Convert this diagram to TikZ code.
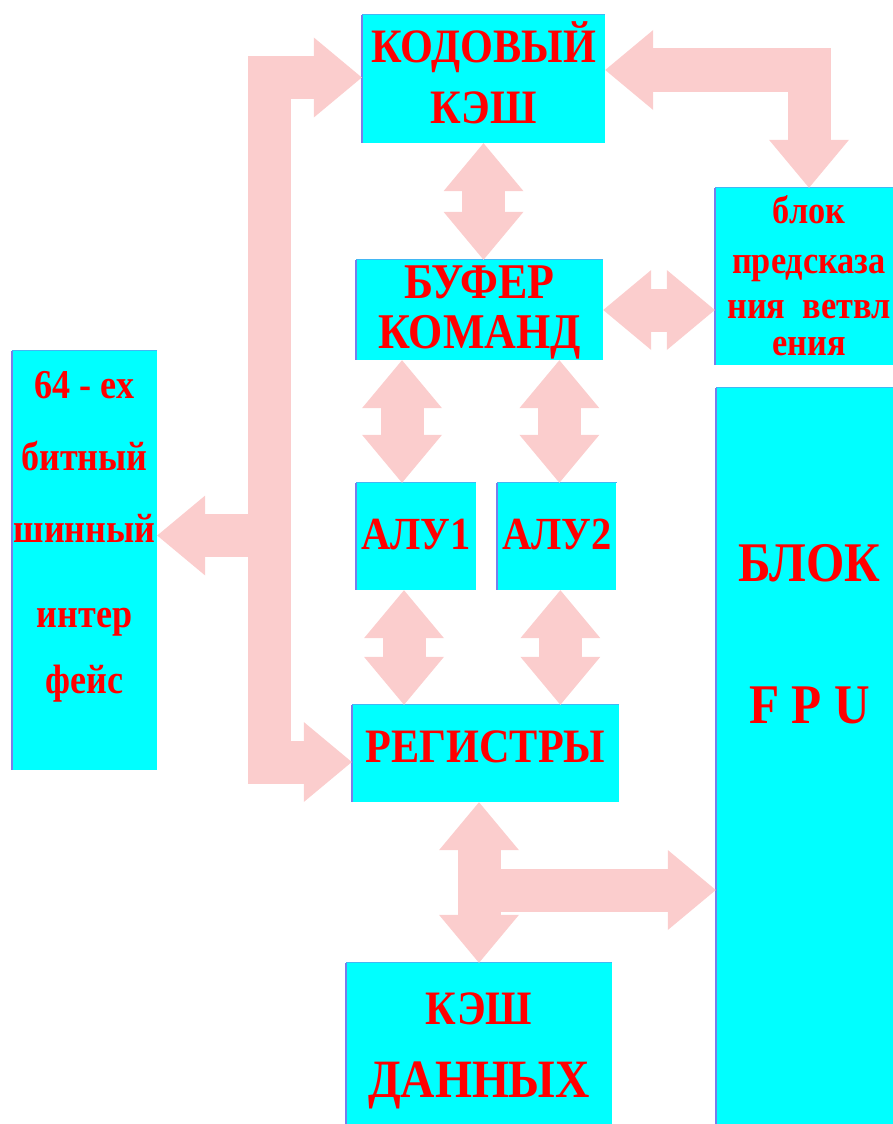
\documentclass[tikz,border=0pt]{standalone}
\usepackage{fontspec}
\setmainfont{Liberation Serif}[FakeStretch=0.88]
\usepackage{tikz}
\usetikzlibrary{arrows.meta, positioning}
\definecolor{boxcyan}{RGB}{0,255,255}
\definecolor{edgeblue}{RGB}{120,125,235}
\definecolor{arrowpink}{RGB}{251,205,205}
\definecolor{textred}{RGB}{255,0,0}
\newcommand{\blkfont}[2]{\fontsize{#1}{#2}\selectfont\bfseries}
\tikzset{
    blok/.style = {rectangle, fill=boxcyan, inner sep=0pt, align=center, text=textred,
        append after command={
            (\tikzlastnode.north east) edge[draw=edgeblue!55!boxcyan, line width=1.2pt] (\tikzlastnode.north west)
            (\tikzlastnode.north west) edge[draw=edgeblue, line width=2.5pt] (\tikzlastnode.south west)}},
    fat/.style = {draw=arrowpink, line width=43pt, line join=miter},
    dbl/.style = {fat, {Triangle[width=80pt,length=48pt,line width=0pt]}-{Triangle[width=80pt,length=48pt,line width=0pt]}},
    sgl/.style = {fat, -{Triangle[width=80pt,length=48pt,line width=0pt]}}
}
\begin{document}
\begin{tikzpicture}[x=1pt, y=-1pt]
    \clip (0,0) rectangle (893,1124);
    % blocks
    \node (kod) [blok, minimum width=243pt, minimum height=128pt, font=\blkfont{48}{61}, text height=93pt, text depth=5pt] at (483.5,79) {КОДОВЫЙ\\КЭШ};
    \node (bp) [blok, minimum width=188pt, minimum height=177pt, font=\blkfont{39}{45}, text height=167pt, text depth=10pt] at (809,276.5) {блок\\[5pt]предсказа\\ния\ \ ветвл\\[-8pt]ения};
    \node (buf) [blok, minimum width=247pt, minimum height=100pt, font=\blkfont{50}{50}, text height=86pt, text depth=10pt] at (479.5,310) {БУФЕР\\КОМАНД};
    \node (bus) [blok, minimum width=145pt, minimum height=419pt, font=\blkfont{41}{72}, text height=275pt, text depth=10pt] at (84.5,560.5) {64 - ех\\битный\\шинный\\[13pt]интер\\[-6pt]фейс};
    \node (alu1) [blok, minimum width=120pt, minimum height=107pt, font=\blkfont{46}{50}, text height=30pt, text depth=5pt] at (416,536.5) {АЛУ1};
    \node (alu2) [blok, minimum width=119pt, minimum height=107pt, font=\blkfont{46}{50}, text height=30pt, text depth=5pt, right=21pt of alu1] {АЛУ2};
    \node (reg) [blok, minimum width=267pt, minimum height=97pt, font=\blkfont{48}{53}, text height=30pt, text depth=12pt] at (485.5,753.5) {РЕГИСТРЫ};
    \node (dat) [blok, minimum width=266pt, minimum height=177pt, font=\blkfont{48}{73}, text height=101pt, text depth=10pt] at (479,1051.5) {КЭШ\\{\blkfont{54}{73}ДАННЫХ}};
    \node (fpu) [blok, minimum width=187pt, minimum height=752pt, font=\blkfont{56}{142}, text height=40pt, text depth=122pt] at (809.5,764) {БЛОК\\F P U};
    % links
    \draw [dbl] (kod.south) -- (kod.south |- buf.north);
    \draw [dbl] (buf.east) -- (buf.east -| bp.west);
    \draw [dbl] ([xshift=-14pt]alu1.north) -- ([xshift=-14pt]alu1.north |- buf.south);
    \draw [dbl] ([xshift=2.5pt]alu2.north) -- ([xshift=2.5pt]alu2.north |- buf.south);
    \draw [dbl] ([xshift=-12pt]alu1.south) -- ([xshift=-12pt]alu1.south |- reg.north);
    \draw [dbl] ([xshift=3.5pt]alu2.south) -- ([xshift=3.5pt]alu2.south |- reg.north);
    \draw [dbl] (dat.north) -- (dat.north |- reg.south);
    \coordinate (split) at (479,890);
    \draw [sgl] (split) -- (split -| fpu.west);
    % bus
    \coordinate (spine) at (269,535.5);
    \draw [dbl] ([yshift=1.5pt]kod.west) -| (spine) |- ([yshift=-8.5pt]reg.west);
    \draw [sgl] (spine) -- (spine -| bus.east);
    \draw [dbl] ([yshift=9pt]kod.east) -| (bp.north);
\end{tikzpicture}
\end{document}
